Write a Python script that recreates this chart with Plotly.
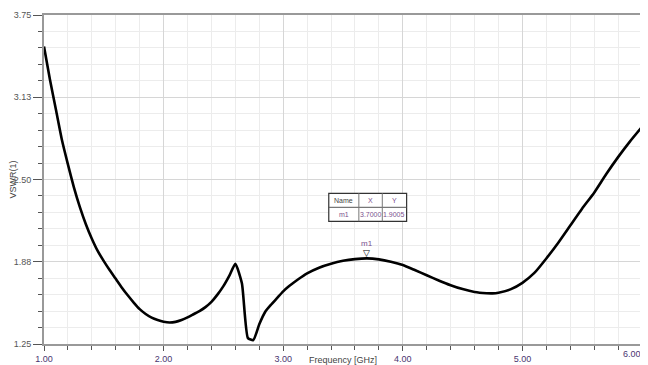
import plotly.graph_objects as go

# ---- data ----
freq = [1.00, 1.05, 1.10, 1.15, 1.20, 1.25, 1.30, 1.35, 1.40, 1.45, 1.50, 1.55, 1.60, 1.65,
        1.70, 1.75, 1.80, 1.85, 1.90, 1.95, 2.00, 2.05, 2.10, 2.15, 2.20, 2.25, 2.30, 2.35,
        2.40, 2.45, 2.50, 2.55, 2.60, 2.655, 2.705, 2.75, 2.80, 2.85, 2.90, 2.95, 3.00, 3.05,
        3.10, 3.15, 3.20, 3.30, 3.40, 3.50, 3.60, 3.70, 3.80, 3.90, 4.00, 4.10, 4.20, 4.30,
        4.40, 4.50, 4.60, 4.70, 4.75, 4.80, 4.90, 5.00, 5.10, 5.20, 5.30, 5.40, 5.50, 5.60,
        5.70, 5.80, 5.90, 6.00]
vswr = [3.51, 3.258, 3.03, 2.80, 2.615, 2.44, 2.29, 2.16, 2.05, 1.955, 1.88, 1.81, 1.745, 1.68,
        1.62, 1.565, 1.515, 1.478, 1.45, 1.432, 1.419, 1.413, 1.418, 1.432, 1.452, 1.476, 1.50, 1.53,
        1.57, 1.625, 1.69, 1.77, 1.86, 1.71, 1.295, 1.28, 1.40, 1.495, 1.55, 1.60, 1.65, 1.69,
        1.725, 1.757, 1.787, 1.83, 1.86, 1.882, 1.895, 1.9005, 1.893, 1.875, 1.85, 1.812, 1.772, 1.733,
        1.697, 1.667, 1.645, 1.636, 1.635, 1.64, 1.665, 1.715, 1.79, 1.90, 2.02, 2.15, 2.28, 2.40,
        2.54, 2.67, 2.79, 2.90]

marker_name = ["m1"]
marker_x = [3.70]
marker_y = [1.9005]

x_ticks = [1, 2, 3, 4, 5, 6]
x_ticktext = ["1.00", "2.00", "3.00", "4.00", "5.00", "6.00"]
y_ticks = [1.25, 1.875, 2.5, 3.125, 3.75]
y_ticktext = ["1.25", "1.88", "2.50", "3.13", "3.75"]

FONT = "Liberation Sans, Arial, sans-serif"
PURPLE = "#7b4f8e"
XTICK_COLOR = "#4a3570"

fig = go.Figure()
fig.add_trace(go.Scatter(x=freq, y=vswr, mode="lines",
                         line=dict(color="black", width=2.6, shape="spline", smoothing=0.5),
                         showlegend=False, hoverinfo="skip"))

# page body has an 8px margin, so the figure is 640x357 starting at (8, 8)
fig.update_layout(
    width=640, height=357,
    margin=dict(l=36, r=6, t=7, b=21),
    paper_bgcolor="white", plot_bgcolor="white",
    font=dict(family=FONT, size=9, color="#444"),
    showlegend=False,
)

# last tick label sits against the right page edge: draw it right-aligned
axis_ticktext = x_ticktext[:-1] + [""]
fig.update_xaxes(
    range=[1, 6], tickvals=x_ticks, ticktext=axis_ticktext,
    tickfont=dict(size=9, color=XTICK_COLOR),
    showline=True, linecolor="#999", linewidth=2, mirror=True,
    ticks="outside", ticklen=5, tickcolor="#555", tickwidth=1,
    showgrid=True, gridcolor="#d6d6d6", gridwidth=1, zeroline=False,
    minor=dict(dtick=0.2, tick0=1, showgrid=True, gridcolor="#ececec",
               ticks="outside", ticklen=4, tickcolor="#555"),
    title=dict(text="Frequency [GHz]", font=dict(size=9, color="#444"), standoff=10),
    automargin=False,
)
fig.add_annotation(x=x_ticks[-1], y=0, yref="paper", text=x_ticktext[-1], showarrow=False,
                   xanchor="right", yanchor="top", xshift=0, yshift=-4, borderpad=0,
                   font=dict(size=9, color=XTICK_COLOR))

fig.update_yaxes(
    range=[1.25, 3.75], tickvals=y_ticks, ticktext=y_ticktext,
    tickfont=dict(size=9, color="#555"),
    showline=True, linecolor="#999", linewidth=2, mirror=True,
    ticks="outside", ticklen=9, tickcolor="#555", tickwidth=1,
    showgrid=True, gridcolor="#d6d6d6", gridwidth=1, zeroline=False,
    minor=dict(dtick=0.125, tick0=1.25, showgrid=True, gridcolor="#ececec",
               ticks="outside", ticklen=4, tickcolor="#555"),
    title=dict(text="VSWR(1)", font=dict(size=9, color="#444"), standoff=8),
    automargin=False,
)

# marker on the curve
for n, mx, my in zip(marker_name, marker_x, marker_y):
    fig.add_annotation(x=mx, y=my, text="▽", showarrow=False, yanchor="bottom",
                       font=dict(size=9, color="black", family="DejaVu Sans"), yshift=-2)
    fig.add_annotation(x=mx, y=my, text=n, showarrow=False, yanchor="bottom",
                       font=dict(size=8, color=PURPLE), yshift=8)

# marker table (paper coords)
x0, x1, x2, x3 = 0.4762, 0.5265, 0.5657, 0.6064
y0, y1, y2 = 0.4581, 0.4155, 0.3729
fig.add_shape(type="rect", xref="paper", yref="paper", x0=x0, x1=x3, y0=y2, y1=y0,
              line=dict(color="#333", width=1.2), fillcolor="white", layer="above")
fig.add_shape(type="line", xref="paper", yref="paper", x0=x0, x1=x3, y0=y1, y1=y1,
              line=dict(color="#555", width=1))
for xv in (x1, x2):
    fig.add_shape(type="line", xref="paper", yref="paper", x0=xv, x1=xv, y0=y2, y1=y0,
                  line=dict(color="#777", width=1))

hdr = [("Name", (x0 + x1) / 2, "#444"), ("X", (x1 + x2) / 2, PURPLE), ("Y", (x2 + x3) / 2, PURPLE)]
for t, xc, c in hdr:
    fig.add_annotation(xref="paper", yref="paper", x=xc, y=(y0 + y1) / 2, text=t,
                       showarrow=False, font=dict(size=7, color=c))
row = [(marker_name[0], (x0 + x1) / 2), ("%.4f" % marker_x[0], (x1 + x2) / 2),
       ("%.4f" % marker_y[0], (x2 + x3) / 2)]
for t, xc in row:
    fig.add_annotation(xref="paper", yref="paper", x=xc, y=(y1 + y2) / 2, text=t,
                       showarrow=False, font=dict(size=7, color=PURPLE))

fig.write_html("out.html")
